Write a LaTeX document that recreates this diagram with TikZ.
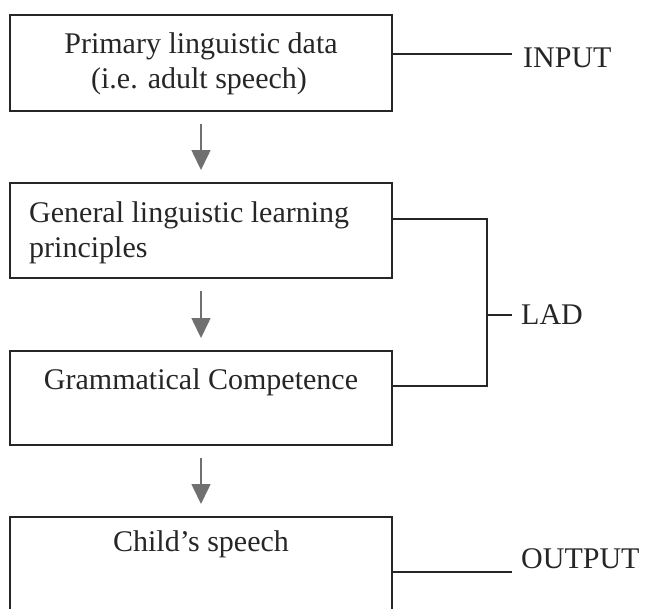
\documentclass[tikz,border=0pt]{standalone}
\usepackage{fontspec}
\setmainfont{Liberation Serif}
\usetikzlibrary{arrows.meta}
\definecolor{ink}{HTML}{262626}
\definecolor{arrowgray}{HTML}{707070}
\begin{document}
\begin{tikzpicture}[x=1pt,y=-1pt,
  box/.style={draw=ink,line width=2pt,rectangle,minimum width=382pt,inner sep=0pt},
  txt/.style={inner sep=0pt,font=\fontsize{30}{36}\selectfont,text=ink},
  conn/.style={draw=ink,line width=1.8pt},
  flow/.style={draw=arrowgray,line width=1.6pt,-{Triangle[length=20pt,width=19pt]},
    shorten <=12pt,shorten >=12pt}]
\useasboundingbox (0,0) rectangle (650,608);
\clip (0,0) rectangle (650,608);
% boxes
\node[box,minimum height=96pt] (b1) at (201,63) {};
\node[box,minimum height=95pt] (b2) at (201,230.5) {};
\node[box,minimum height=94pt] (b3) at (201,398) {};
\node[box,minimum height=110pt] (b4) at (201,572) {};
% box texts
\node[txt,anchor=base] (t1a) at (201,53) {Primary linguistic data};
\node[txt,anchor=base] (t1b) at (199,88) {(i.e. adult speech)};
\node[txt,anchor=base west] (t2a) at (29,222) {General linguistic learning};
\node[txt,anchor=base west] (t2b) at (29,257) {principles};
\node[txt,anchor=base] (t3) at (201,389) {Grammatical Competence};
\node[txt,anchor=base] (t4) at (201,551) {Child’s speech};
% flow arrows
\draw[flow] (b1.south) -- (b2.north);
\draw[flow] (b2.south) -- (b3.north);
\draw[flow] (b3.south) -- (b4.north);
% side labels
\coordinate (inL) at (b1.east |- 0,54);
\coordinate (inR) at (512,54);
\node[txt,anchor=base west] (input) at (523,67) {INPUT};
\draw[conn] (inL) -- (inR);
\coordinate (ladT) at (b2.east |- 0,219);
\coordinate (ladB) at (b3.east |- 0,386);
\coordinate (ladM) at (487,315);
\coordinate (ladTick) at (512,315);
\draw[conn] (ladT) -- (487,219) -- (487,386) -- (ladB);
\draw[conn] (ladM) -- (ladTick);
\node[txt,anchor=base west] (lad) at (521,324) {LAD};
\coordinate (outL) at (b4.east |- 0,572);
\coordinate (outR) at (512,572);
\draw[conn] (outL) -- (outR);
\node[txt,anchor=base west] (output) at (521,568) {OUTPUT};
\end{tikzpicture}
\end{document}
